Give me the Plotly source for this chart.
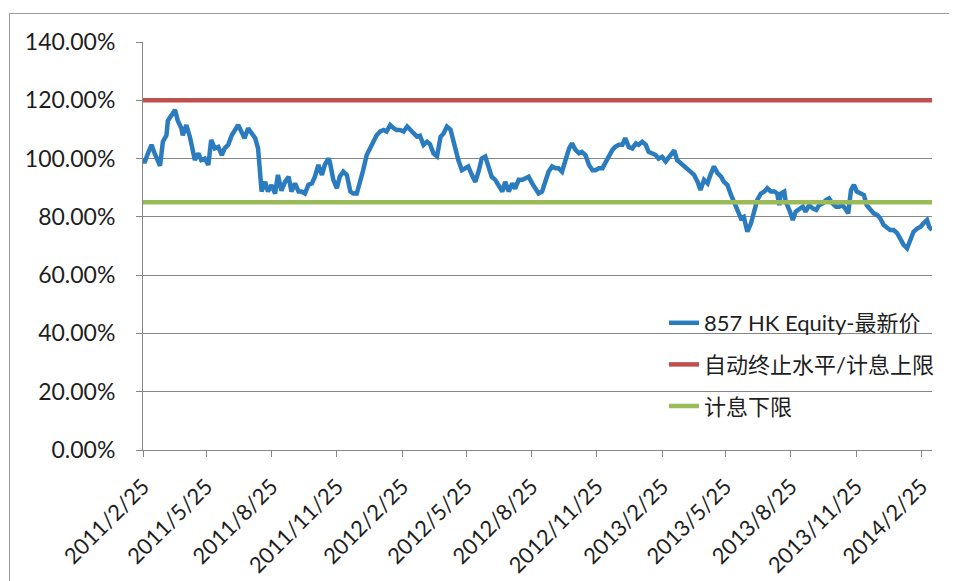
import pandas as pd
import plotly.graph_objects as go

# ---------------- data ----------------
start_date = "2011-02-25"

# calendar-day offsets from start_date of each sampled observation
day_offsets = [
    0, 2, 7, 12, 16, 21, 24, 28, 33, 35, 40, 45, 49, 54, 56, 61, 66, 71, 73, 78,
    82, 87, 92, 96, 101, 106, 111, 115, 120, 125, 129, 134, 139, 143, 148, 153, 158, 162, 165, 167,
    172, 176, 181, 186, 190, 195, 200, 205, 209, 214,
    219, 223, 228, 233, 238, 242, 247, 252, 256, 261, 263, 268, 273, 277, 282, 287, 292, 296, 301, 306,
    310, 315, 320, 324, 329, 334, 339, 343, 348, 353, 357, 362, 367, 372, 376, 381, 386, 390, 395, 400,
    404, 409, 414, 419, 423, 428, 433,
    440, 444, 449, 454, 458, 463, 468, 473, 477, 482, 487, 491, 496, 501, 506, 510, 515, 520, 524, 529,
    534, 538, 543, 548, 553, 557, 562, 567, 571, 576, 581, 585, 590, 595, 600, 604, 609, 614, 618, 623,
    628, 633, 637, 642, 647, 651,
    656, 661, 665, 670, 675, 679, 684, 689, 694, 698, 703, 708, 712, 717, 722, 726, 731, 736, 741, 745,
    748, 752, 757, 762, 767, 771, 776, 781, 785, 790, 795, 799, 804, 809, 814, 818, 823, 828, 832, 837,
    842, 846, 851, 856, 861, 865,
    870, 875, 879, 884, 889, 893, 896, 898, 903, 905, 910, 915, 919, 924, 929, 933, 938, 943, 948, 952,
    957, 962, 966, 971, 976, 980, 985, 990, 993, 997, 1001, 1005, 1010, 1015, 1019, 1024, 1029, 1034, 1038, 1043,
    1048, 1052, 1057, 1062, 1066, 1071, 1076, 1081, 1085, 1090, 1095, 1099, 1104, 1107, 1111,
]

# 857 HK Equity latest price relative to initial level, in percent
price_pct = [
    100, 98.5, 101.8, 104.7, 102, 99, 97.5, 105.8, 108, 113, 115, 116.7, 113, 110.4, 108, 111.5, 107.5, 101.8, 99.5, 101.8,
    99.5, 100, 97.8, 106.4, 103.5, 104, 101.2, 103.5, 104.7, 108, 109.8, 111.5, 109, 107, 110.4, 108.7, 107, 103.5, 95.6, 88.7,
    92, 88.7, 90.9, 88, 94.4, 89, 92, 93.8, 88.7, 91.5,
    88.7, 88.7, 88, 91, 91.5, 93.8, 97.8, 94.4, 97.8, 100, 99, 92.7, 89.8, 93.8, 95.5, 94.4, 88.7, 88, 88, 92,
    96, 101.2, 103.5, 105.8, 108, 109.3, 109.8, 109.3, 111.5, 110.4, 109.8, 109.8, 109.3, 111, 109.8, 108.7, 107.5, 107.8, 104.7, 105.8,
    105, 101.8, 100.8, 107.5, 108.5, 111, 110,
    103, 99.5, 96, 96.7, 97.3, 94.4, 92, 96, 100, 100.7, 96.7, 93.8, 92.7, 90.4, 88.7, 92, 88.7, 91.5, 89.7, 92.7,
    92.7, 93.2, 93.8, 91.5, 89.7, 88, 88.7, 93.2, 95.5, 97.3, 96.7, 96.7, 95.5, 99.5, 103.5, 105.2, 103, 101.8, 102.3, 101.2,
    97.8, 96, 96, 96.7, 96.7, 98.5,
    101.2, 103, 104, 104.7, 104.7, 107, 104, 103.5, 105.2, 104.7, 105.8, 104.7, 102.3, 101.8, 101.2, 100, 100.6, 99, 100.6, 101.8,
    102.8, 99.5, 98.4, 97.3, 96.7, 95.6, 94.4, 92, 89.2, 92.7, 91.5, 94.4, 97.3, 95, 93.8, 92, 90.9, 87.5, 85.2, 82.4,
    79.5, 80, 74.9, 77.7, 82.4, 85.8,
    88, 88.7, 89.8, 88.7, 88.7, 88, 84, 88, 88.7, 85.2, 82.4, 78.9, 81.8, 82.9, 83.5, 81.8, 84, 82.9, 82.4, 84,
    84.6, 85.8, 86.3, 84.6, 83.5, 83.5, 84, 82.4, 81.2, 89.2, 91, 88.7, 88, 87.5, 84, 82.4, 81.2, 80.6, 79.5, 77.2,
    76, 75.5, 75.5, 74.4, 72.6, 70.4, 69.2, 72.6, 74.9, 76, 76.6, 77.8, 78.9, 76.6, 75.5,
]

upper_barrier_pct = 120   # 自动终止水平/计息上限
lower_barrier_pct = 85    # 计息下限

series_names = ["857 HK Equity-最新价", "自动终止水平/计息上限", "计息下限"]

tick_dates = [
    "2011-02-25", "2011-05-25", "2011-08-25", "2011-11-25", "2012-02-25", "2012-05-25", "2012-08-25",
    "2012-11-25", "2013-02-25", "2013-05-25", "2013-08-25", "2013-11-25", "2014-02-25",
]
tick_labels = [
    "2011/2/25", "2011/5/25", "2011/8/25", "2011/11/25", "2012/2/25", "2012/5/25", "2012/8/25",
    "2012/11/25", "2013/2/25", "2013/5/25", "2013/8/25", "2013/11/25", "2014/2/25",
]
y_tick_values = [0, 20, 40, 60, 80, 100, 120, 140]
y_tick_labels = ["0.00%", "20.00%", "40.00%", "60.00%", "80.00%", "100.00%", "120.00%", "140.00%"]

# ---------------- figure ----------------
dates = pd.Timestamp(start_date) + pd.to_timedelta(day_offsets, unit="D")
first_date, last_date = dates[0], dates[-1]

FONT = "Lato, 'Noto Sans CJK SC', sans-serif"
AXIS_GRAY = "#868686"
TEXT = "#1e1e1e"

# page layout (the page body has an 8px margin)
OFF = 8
W, H = 957, 581
PLOT_L, PLOT_R, PLOT_T, PLOT_B = 143, 932, 42, 450   # plot area in page pixels
L = PLOT_L - OFF
R = W - (PLOT_R - OFF)
T = PLOT_T - OFF
B = H - (PLOT_B - OFF)
pw, ph = PLOT_R - PLOT_L, PLOT_B - PLOT_T


def px_x(p):
    return (p - PLOT_L) / pw


def px_y(p):
    return (PLOT_B - p) / ph


fig = go.Figure()
fig.add_trace(go.Scatter(
    x=dates, y=price_pct, mode="lines", name=series_names[0], legendgroup="a",
    line=dict(color="#2B7BBF", width=4.5),
))
fig.add_trace(go.Scatter(
    x=[first_date, last_date], y=[upper_barrier_pct, upper_barrier_pct], mode="lines",
    name=series_names[1], legendgroup="b", line=dict(color="#C0504D", width=4.5),
))
fig.add_trace(go.Scatter(
    x=[first_date, last_date], y=[lower_barrier_pct, lower_barrier_pct], mode="lines",
    name=series_names[2], legendgroup="c", line=dict(color="#9BBB59", width=4.5),
))

fig.update_layout(
    width=W, height=H,
    margin=dict(l=L, r=R, t=T, b=B, pad=0),
    paper_bgcolor="white", plot_bgcolor="white",
    font=dict(family=FONT, size=22, color=TEXT),
    showlegend=True,
    legend=dict(
        x=px_x(664), y=px_y(302), xanchor="left", yanchor="top",
        bgcolor="rgba(0,0,0,0)", borderwidth=0,
        font=dict(family=FONT, size=22, color=TEXT),
        tracegroupgap=10, itemwidth=30,
    ),
    xaxis=dict(
        type="date", range=[first_date, last_date],
        tickmode="array", tickvals=tick_dates, ticktext=tick_labels,
        tickangle=-45, ticks="outside", ticklen=6, tickcolor=AXIS_GRAY, tickwidth=1,
        showline=True, linecolor=AXIS_GRAY, linewidth=1,
        showgrid=False, zeroline=False, ticklabelstandoff=8,
        tickfont=dict(family=FONT, size=22, color=TEXT),
    ),
    yaxis=dict(
        range=[0, 140], tickmode="array", tickvals=y_tick_values, ticktext=y_tick_labels,
        ticks="outside", ticklen=6, tickcolor=AXIS_GRAY, tickwidth=1,
        showline=True, linecolor=AXIS_GRAY, linewidth=1,
        showgrid=True, gridcolor=AXIS_GRAY, gridwidth=1, zeroline=False,
        ticklabelstandoff=16,
        tickfont=dict(family=FONT, size=23, color=TEXT),
    ),
    shapes=[
        dict(type="rect", xref="paper", yref="paper",
             x0=px_x(9.5), x1=px_x(1000), y0=px_y(700), y1=px_y(13.5),
             line=dict(color="#9a9a9a", width=1), fillcolor="rgba(0,0,0,0)", layer="below"),
    ],
)

fig.write_html("out.html")
